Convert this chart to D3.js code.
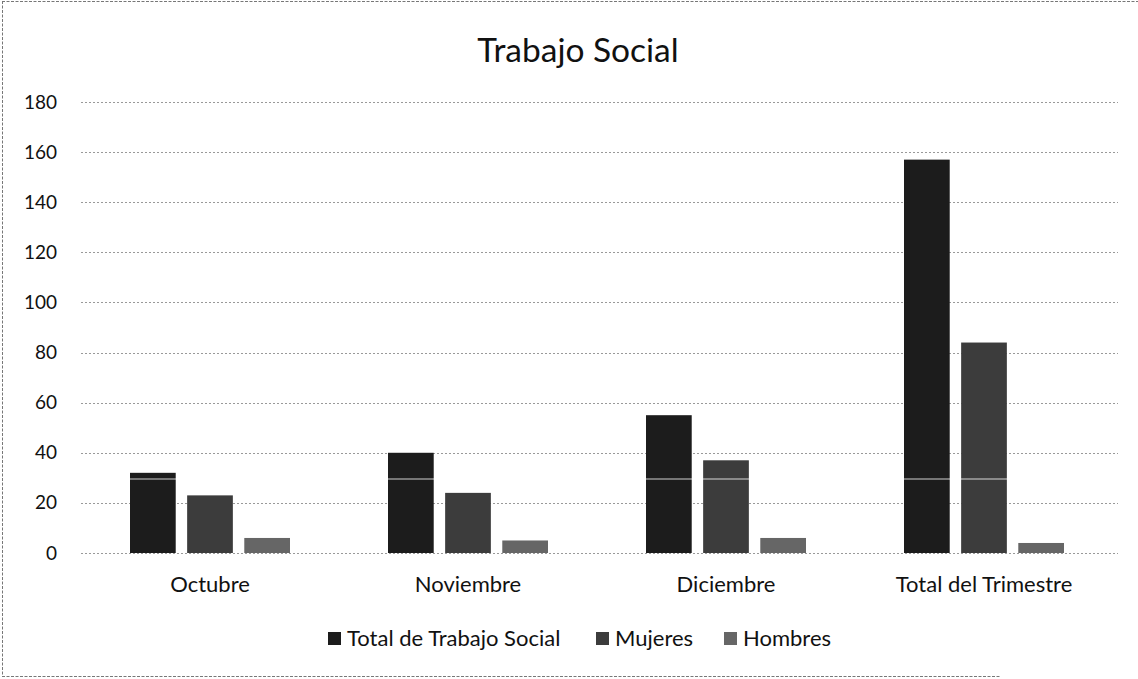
<!DOCTYPE html>
<html>
<head>
<meta charset="utf-8">
<script src="https://cdn.jsdelivr.net/npm/d3@7"></script>
<style>
  html, body { margin: 0; padding: 0; background: #fff; }
  svg { display: block; }
  text { font-family: Lato, "Open Sans", sans-serif; fill: #111; }
</style>
</head>
<body>
<svg id="chart" width="1138" height="679"></svg>
<script>
// Attention figures, Trabajo Social, fourth quarter
const categories = ["Octubre", "Noviembre", "Diciembre", "Total del Trimestre"];
const seriesNames = ["Total de Trabajo Social", "Mujeres", "Hombres"];
const totalValues = [32, 40, 55, 157];
const mujeresValues = [23, 24, 37, 84];
const hombresValues = [6, 5, 6, 4];
const yTicks = [0, 20, 40, 60, 80, 100, 120, 140, 160, 180];
const seriesColors = ["#1c1c1c", "#3c3c3c", "#666666"];

const seriesValues = [totalValues, mujeresValues, hombresValues];
const rows = categories.map((c, i) => ({
  category: c,
  values: seriesNames.map((s, k) => ({ series: s, value: seriesValues[k][i] }))
}));

const width = 1138, height = 679;
const plot = { left: 81, right: 1113, top: 102, bottom: 553 };
const fontStack = "Lato, 'Open Sans', sans-serif";

const svg = d3.select("#chart");

// page frame
const frame = svg.append("g").attr("stroke", "#777").attr("stroke-width", 1)
  .attr("stroke-dasharray", "3,1.5").attr("fill", "none");
frame.append("line").attr("x1", 2).attr("x2", width).attr("y1", 1.5).attr("y2", 1.5);
frame.append("line").attr("x1", 2.5).attr("x2", 2.5).attr("y1", 1).attr("y2", 676);
frame.append("line").attr("x1", 2).attr("x2", 1000).attr("y1", 676.5).attr("y2", 676.5);

// title
svg.append("text")
  .attr("x", 578).attr("y", 62)
  .attr("text-anchor", "middle")
  .style("font-size", "33.5px")
  .text("Trabajo Social");

const y = d3.scaleLinear().domain([0, 180]).range([plot.bottom, plot.top]);
const x0 = d3.scaleBand().domain(categories).range([plot.left, plot.right]);
const groupWidth = 160;
const x1 = d3.scaleBand().domain(seriesNames).range([0, groupWidth]).paddingInner(0.2);
const color = d3.scaleOrdinal().domain(seriesNames).range(seriesColors);

// horizontal gridlines
svg.append("g")
  .selectAll("line")
  .data(yTicks)
  .join("line")
  .attr("x1", plot.left).attr("x2", plot.right + 5)
  .attr("y1", d => Math.round(y(d)) + 0.5).attr("y2", d => Math.round(y(d)) + 0.5)
  .attr("stroke", "#999")
  .attr("stroke-width", 1)
  .attr("stroke-dasharray", "2,2");

// value axis labels
const yAxis = d3.axisLeft(y).tickValues(yTicks).tickSize(0).tickPadding(0);
svg.append("g")
  .attr("transform", `translate(57,0)`)
  .call(yAxis)
  .call(g => g.select(".domain").remove())
  .call(g => g.selectAll("text").style("font-size", "19px").attr("fill", "#111")
    .style("font-family", fontStack));

// category axis labels
const xAxis = d3.axisBottom(x0).tickSize(0).tickPadding(0);
svg.append("g")
  .attr("transform", `translate(0,576)`)
  .call(xAxis)
  .call(g => g.select(".domain").remove())
  .call(g => g.selectAll("text").style("font-size", "22px").attr("fill", "#111")
    .style("font-family", fontStack));

// grouped bars
const offset = (x0.bandwidth() - groupWidth) / 2;
svg.append("g")
  .selectAll("g")
  .data(rows)
  .join("g")
  .attr("transform", d => `translate(${x0(d.category) + offset},0)`)
  .selectAll("rect")
  .data(d => d.values)
  .join("rect")
  .attr("x", d => x1(d.series))
  .attr("width", x1.bandwidth())
  .attr("y", d => y(d.value))
  .attr("height", d => y(0) - y(d.value))
  .attr("fill", d => color(d.series));

// light streak crossing the taller bars
svg.append("line")
  .attr("x1", plot.left).attr("x2", plot.right)
  .attr("y1", 479).attr("y2", 479)
  .attr("stroke", "#fff").attr("stroke-opacity", 0.8).attr("stroke-width", 1.2);

// legend
const legendItems = [
  { name: seriesNames[0], x: 328 },
  { name: seriesNames[1], x: 596 },
  { name: seriesNames[2], x: 724 }
];
const legend = svg.append("g").selectAll("g")
  .data(legendItems)
  .join("g")
  .attr("transform", d => `translate(${d.x},638)`);
legend.append("rect")
  .attr("x", 0).attr("y", -6).attr("width", 13).attr("height", 13)
  .attr("fill", d => color(d.name));
legend.append("text")
  .attr("x", 19).attr("y", 0).attr("dy", "0.35em")
  .style("font-size", "22px")
  .text(d => d.name);
</script>
</body>
</html>
